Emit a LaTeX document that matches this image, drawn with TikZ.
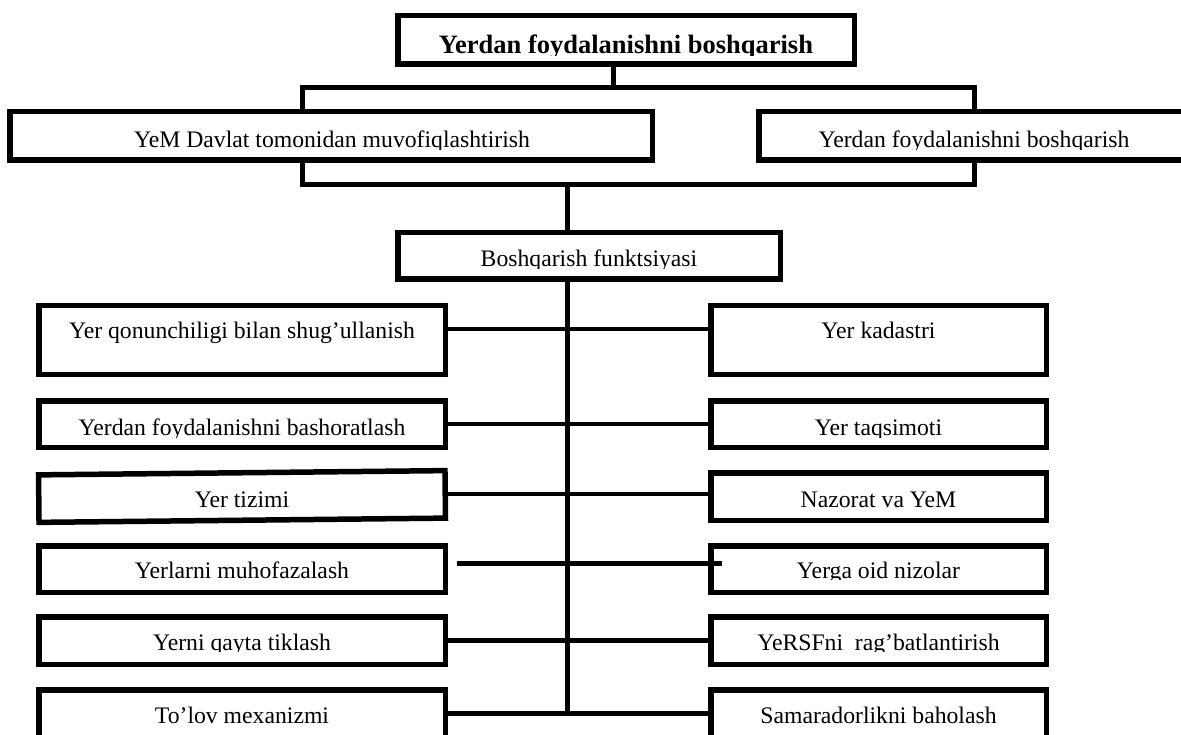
\documentclass[tikz,border=0pt]{standalone}
\usepackage{fontspec}
\setmainfont{Liberation Serif}
\usetikzlibrary{calc}
\tikzset{
  box/.style={draw, rectangle, line width=5.5pt, inner sep=0pt},
  lbl/.style={inner sep=0pt, anchor=base, font=\fontsize{23.7}{28}\selectfont},
  blbl/.style={inner sep=0pt, anchor=base, font=\fontsize{26.5}{31}\selectfont\bfseries},
  thk/.style={line width=5pt},
  thn/.style={line width=3.5pt},
}
\newcommand\cliplabel[6]{% style, name, cx, baseline, clip y, text
  \begin{scope}
    \clip (#3-420,#4-45) rectangle (#3+420,#5);
    \node[#1] (#2) at (#3,#4) {#6};
  \end{scope}}
\begin{document}
\begin{tikzpicture}[x=1pt,y=-1pt]
\useasboundingbox (0,0) rectangle (1181,735);
\clip (0,0) rectangle (1181,735);
% top level
\node[box, minimum width=456.5pt, minimum height=48.5pt] (top) at (626,40) {};
\cliplabel{blbl}{ttop}{626}{54}{55.5}{Yerdan foydalanishni boshqarish}
\node[box, minimum width=642.5pt, minimum height=48.5pt] (lbox) at (331,136) {};
\cliplabel{lbl}{tlbox}{332}{148}{149.5}{YeM Davlat tomonidan muvofiqlashtirish}
\node[box, minimum width=430.5pt, minimum height=48.5pt] (rbox) at (974,136) {};
\cliplabel{lbl}{trbox}{974}{148}{149.5}{Yerdan foydalanishni boshqarish}
\node[box, minimum width=382.5pt, minimum height=46.5pt] (bf) at (589,256) {};
\cliplabel{lbl}{tbf}{589}{267}{268.5}{Boshqarish funktsiyasi}
% left column
\node[box, minimum width=406.5pt, minimum height=68.5pt] (l1) at (242,340) {};
\node[lbl] (tl1) at (242,338) {Yer qonunchiligi bilan shug’ullanish};
\node[box, minimum width=406.5pt, minimum height=46.5pt] (l2) at (242,424) {};
\cliplabel{lbl}{tl2}{242}{435.5}{437}{Yerdan foydalanishni bashoratlash}
\node[box, minimum width=406.5pt, minimum height=47.5pt, rotate=0.6] (l3) at (242,496.5) {};
\node[lbl] (tl3) at (242,507) {Yer tizimi};
\node[box, minimum width=406.5pt, minimum height=46.5pt] (l4) at (242,569) {};
\node[lbl] (tl4) at (242,578) {Yerlarni muhofazalash};
\node[box, minimum width=406.5pt, minimum height=47.5pt] (l5) at (242,640.5) {};
\cliplabel{lbl}{tl5}{242}{650}{651.5}{Yerni qayta tiklash}
\node[box, minimum width=406.5pt, minimum height=52.5pt] (l6) at (242,716) {};
\node[lbl] (tl6) at (242,723) {To’lov mexanizmi};
% right column
\node[box, minimum width=335.5pt, minimum height=68.5pt] (r1) at (878.5,340) {};
\node[lbl] (tr1) at (878.5,338) {Yer kadastri};
\node[box, minimum width=335.5pt, minimum height=46.5pt] (r2) at (878.5,424) {};
\cliplabel{lbl}{tr2}{878.5}{435.5}{437}{Yer taqsimoti}
\node[box, minimum width=335.5pt, minimum height=47.5pt] (r3) at (878.5,496.5) {};
\node[lbl] (tr3) at (878.5,507) {Nazorat va YeM};
\node[box, minimum width=335.5pt, minimum height=46.5pt] (r4) at (878.5,569) {};
\cliplabel{lbl}{tr4}{878.5}{578}{579.5}{Yerga oid nizolar}
\node[box, minimum width=335.5pt, minimum height=47.5pt] (r5) at (878.5,640.5) {};
\cliplabel{lbl}{tr5}{878.5}{650}{651.5}{YeRSFni\ \ rag’batlantirish}
\node[box, minimum width=335.5pt, minimum height=52.5pt] (r6) at (878.5,716) {};
\node[lbl] (tr6) at (878.5,723) {Samaradorlikni baholash};
% junction coordinates
\coordinate (j0) at (613,88);
\coordinate (hl) at (302,88);
\coordinate (hr) at (974,88);
\coordinate (ll) at (302,185);
\coordinate (lr) at (974,185);
\coordinate (tk) at (567,185);
\coordinate (tkb) at (567,713);
% top connectors
\draw[thk] (top.south -| j0) -- (j0);
\draw[thk] (lbox.north -| hl) -- (hl) -- (hr) -- (rbox.north -| hr);
\draw[thk] (lbox.south -| ll) -- (ll) -- (lr) -- (rbox.south -| lr);
\draw[thk] (tk) -- (bf.north -| tk);
\draw[thk] (bf.south -| tk) -- (tkb);
% row connectors
\coordinate (y1) at (0,329);
\coordinate (y2) at (0,424);
\coordinate (y3) at (0,494);
\coordinate (y4a) at (457,563);
\coordinate (y4b) at (722,563);
\coordinate (y5) at (0,640);
\coordinate (y6) at (0,713);
\draw[thn] (l1.east |- y1) -- (r1.west |- y1);
\draw[thn] (l2.east |- y2) -- (r2.west |- y2);
\draw[thn] (l3.east |- y3) -- (r3.west |- y3);
\draw[thk] (y4a) -- (y4b);
\draw[thk] (l5.east |- y5) -- (r5.west |- y5);
\draw[thk] (l6.east |- y6) -- (r6.west |- y6);
\end{tikzpicture}
\end{document}
